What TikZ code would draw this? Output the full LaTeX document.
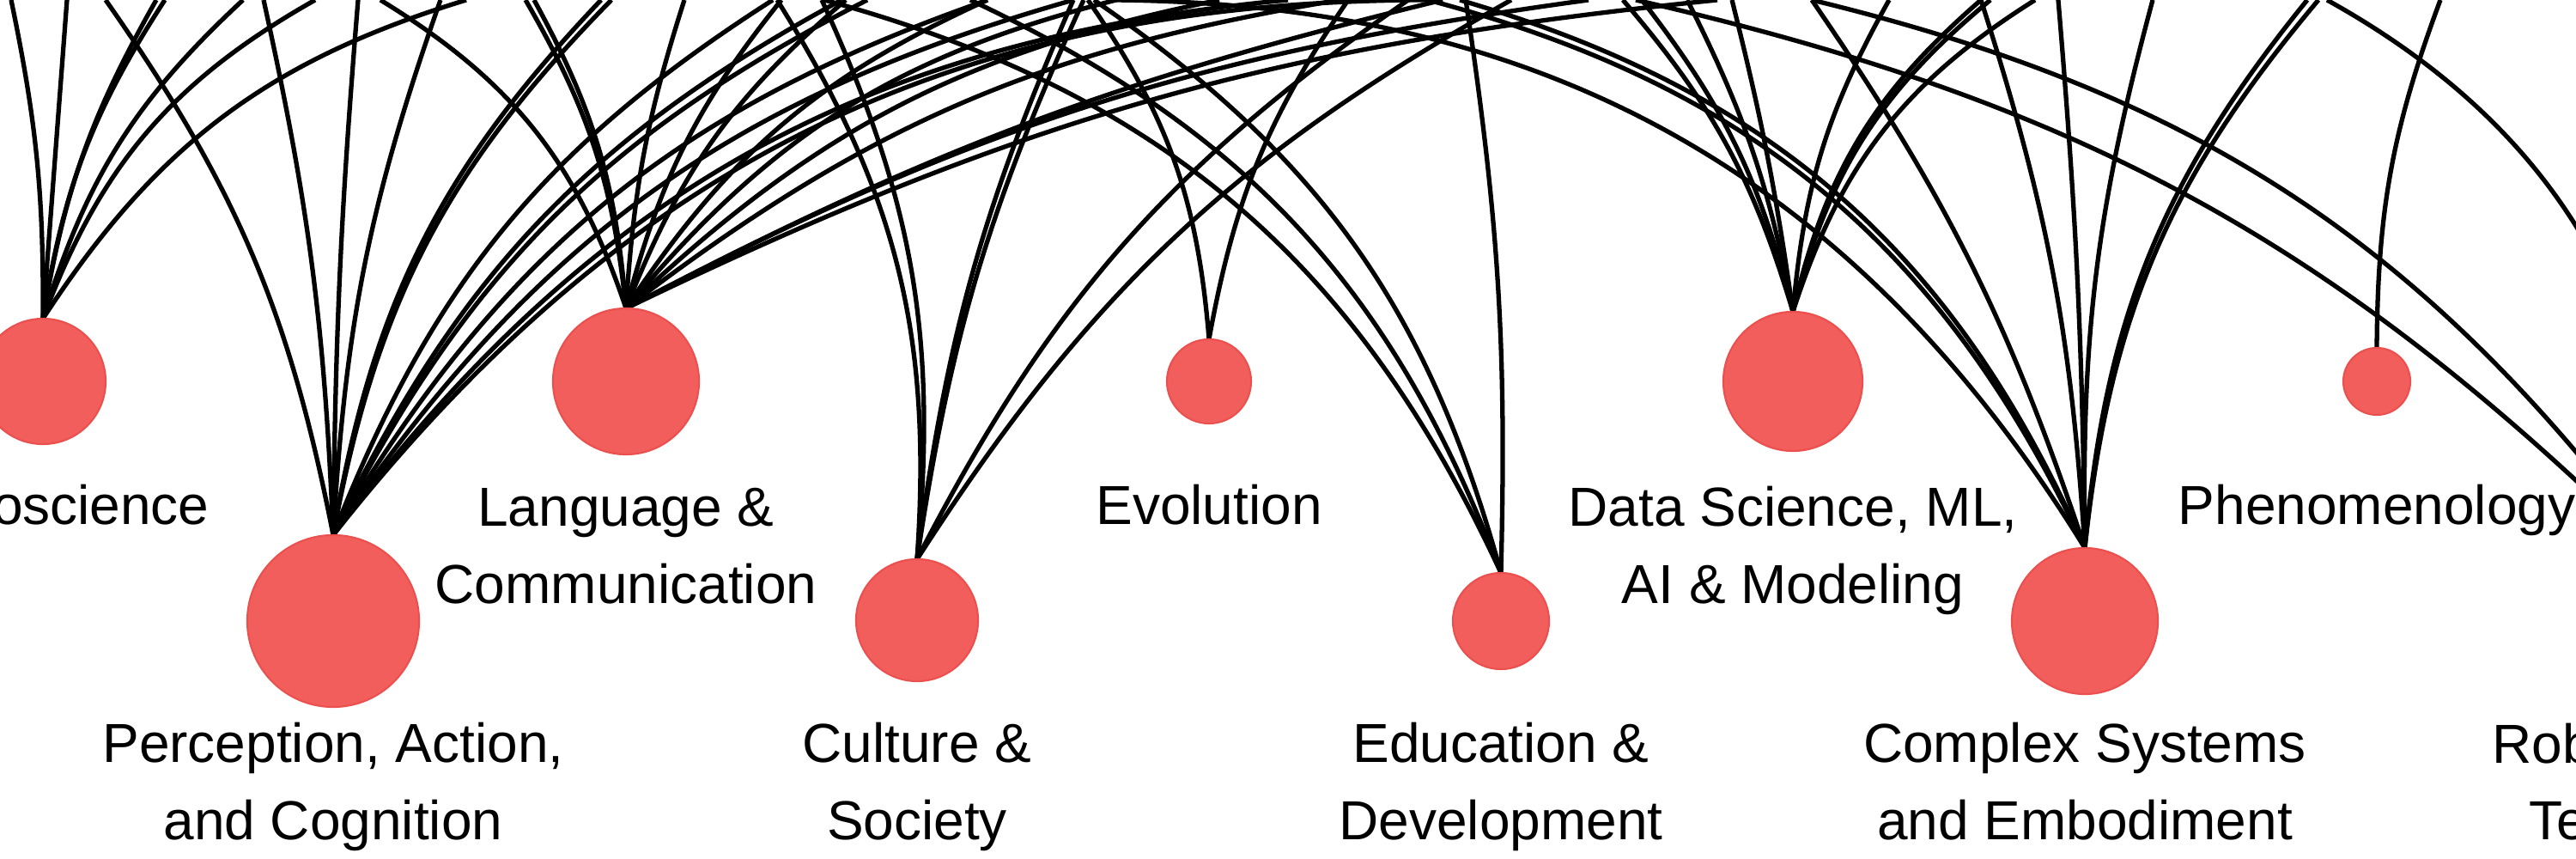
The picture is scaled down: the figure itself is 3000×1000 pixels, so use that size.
\documentclass[tikz,border=0pt]{standalone}
\usepackage{fontspec}
\setmainfont{Liberation Sans}
\definecolor{nodered}{RGB}{241,94,92}
\definecolor{noderim}{RGB}{236,80,78}
\pgfdeclarelayer{edges}
\pgfsetlayers{edges,main}
\tikzset{
  edge/.style={line width=1.5pt, black},
  topic/.style={circle, fill=nodered, draw=noderim, line width=0.6pt, inner sep=0pt, outer sep=0pt, minimum size=#1},
  lbl/.style={font=\fontsize{18.2}{25.6}\selectfont, align=center, inner sep=0pt, anchor=base},
  lblw/.style={font=\fontsize{18.2}{25.6}\selectfont, inner sep=0pt, anchor=base west}
}
\newcommand\arcto[4]{\coordinate (end-#1-#2) at (#2,#3);\draw[edge] (#1.north) to[bend left=#4] (end-#1-#2);}
\begin{document}
\begin{tikzpicture}[x=0.01cm,y=0.01cm]
\useasboundingbox (0,0) rectangle (3000,1000);
% topic nodes
\node[topic=1.46cm] (ne) at (50,556) {};
\node[topic=2.00cm] (pa) at (388,277) {};
\node[topic=1.70cm] (lc) at (729,556) {};
\node[topic=1.42cm] (cs) at (1068,278) {};
\node[topic=0.98cm] (ev) at (1408,556) {};
\node[topic=1.12cm] (ed) at (1748,277) {};
\node[topic=1.62cm] (ds) at (2088,556) {};
\node[topic=1.70cm] (cx) at (2428,277) {};
\node[topic=0.78cm] (ph) at (2768,556) {};
\node[topic=1.20cm] (rt) at (3108,277) {};
% labels (anchor base = baseline of the last line)
\node[lbl] (ne-l) at (48,389) {Neuroscience};
\node[lbl] (lc-l) at (729,297) {Language \&\\Communication};
\node[lbl] (ev-l) at (1408,389) {Evolution};
\node[lbl] (ds-l) at (2088,297) {Data Science, ML,\\AI \& Modeling};
\node[lbl] (ph-l) at (2768,389) {Phenomenology};
\node[lbl] (pa-l) at (388,22) {Perception, Action,\\and Cognition};
\node[lbl] (cs-l) at (1068,22) {Culture \&\\Society};
\node[lbl] (ed-l) at (1748,22) {Education \&\\Development};
\node[lbl] (cx-l) at (2428,22) {Complex Systems\\and Embodiment};
\node[lblw] (rt-l1) at (2902,111) {Robotics \&};
\node[lblw] (rt-l2) at (2945,22) {Technology};
\begin{pgfonlayer}{edges}
\clip (0,0) rectangle (3000,1000);
% Neuroscience
\arcto{ne}{13}{1000}{-6}
\arcto{ne}{78}{1000}{0}
\arcto{ne}{182}{1000}{10}
\arcto{ne}{192}{1000}{12}
\arcto{ne}{283}{1000}{15}
\arcto{ne}{367}{1000}{20}
\arcto{ne}{543}{1000}{20}
% Perception, Action, and Cognition
\arcto{pa}{123}{1000}{-12}
\arcto{pa}{307}{1000}{-5}
\arcto{pa}{417}{1000}{2}
\arcto{pa}{513}{1000}{8}
\arcto{pa}{700}{1000}{17}
\arcto{pa}{712}{1000}{17}
\arcto{pa}{900}{1000}{18}
\arcto{pa}{980}{1000}{18}
\arcto{pa}{1010}{1000}{18}
\arcto{pa}{1150}{1000}{20}
\arcto{pa}{1250}{1000}{20}
\arcto{pa}{1500}{1000}{24}
\arcto{pa}{1680}{1000}{26}
% Language & Communication
\arcto{lc}{443}{1000}{-20}
\arcto{lc}{612}{1000}{-12}
\arcto{lc}{622}{1000}{-12}
\arcto{lc}{797}{1000}{7}
\arcto{lc}{910}{1000}{12}
\arcto{lc}{985}{1000}{14}
\arcto{lc}{1150}{1000}{16}
\arcto{lc}{1300}{1000}{18}
\arcto{lc}{1420}{1000}{16}
\arcto{lc}{1560}{1000}{14}
\arcto{lc}{1680}{1000}{7}
\arcto{lc}{1850}{1000}{10}
\arcto{lc}{2000}{1000}{10}
% Culture & Society
\arcto{cs}{905}{1000}{-18}
\arcto{cs}{957}{1000}{-15}
\arcto{cs}{1250}{1000}{8}
\arcto{cs}{1262}{1000}{8}
\arcto{cs}{1640}{1000}{14}
\arcto{cs}{1760}{1000}{14}
% Evolution
\arcto{ev}{1267}{1000}{-15}
\arcto{ev}{1570}{1000}{12}
% Education & Development
\arcto{ed}{960}{1000}{-25}
\arcto{ed}{1130}{1000}{-22}
\arcto{ed}{1274}{1000}{-20}
\arcto{ed}{1707}{1000}{-5}
% Data Science
\arcto{ds}{1890}{1000}{-12}
\arcto{ds}{1912}{1000}{-12}
\arcto{ds}{1965}{1000}{-8}
\arcto{ds}{2017}{1000}{-3}
\arcto{ds}{2200}{1000}{12}
\arcto{ds}{2307}{1000}{18}
\arcto{ds}{2318}{1000}{18}
\arcto{ds}{2370}{1000}{20}
% Complex Systems
\arcto{cx}{1293}{1000}{-29}
\arcto{cx}{1663}{1000}{-25}
\arcto{cx}{1700}{1000}{-25}
\arcto{cx}{2110}{1000}{-8}
\arcto{cx}{2307}{1000}{-7}
\arcto{cx}{2397}{1000}{-2}
\arcto{cx}{2507}{1000}{8}
\arcto{cx}{2687}{1000}{17}
\arcto{cx}{2700}{1000}{17}
% Phenomenology
\arcto{ph}{2842}{1000}{10}
% Robotics & Technology
\arcto{rt}{1905}{1000}{-16}
\arcto{rt}{2110}{1000}{-20}
\arcto{rt}{2710}{1000}{-30}
\end{pgfonlayer}
\end{tikzpicture}
\end{document}
